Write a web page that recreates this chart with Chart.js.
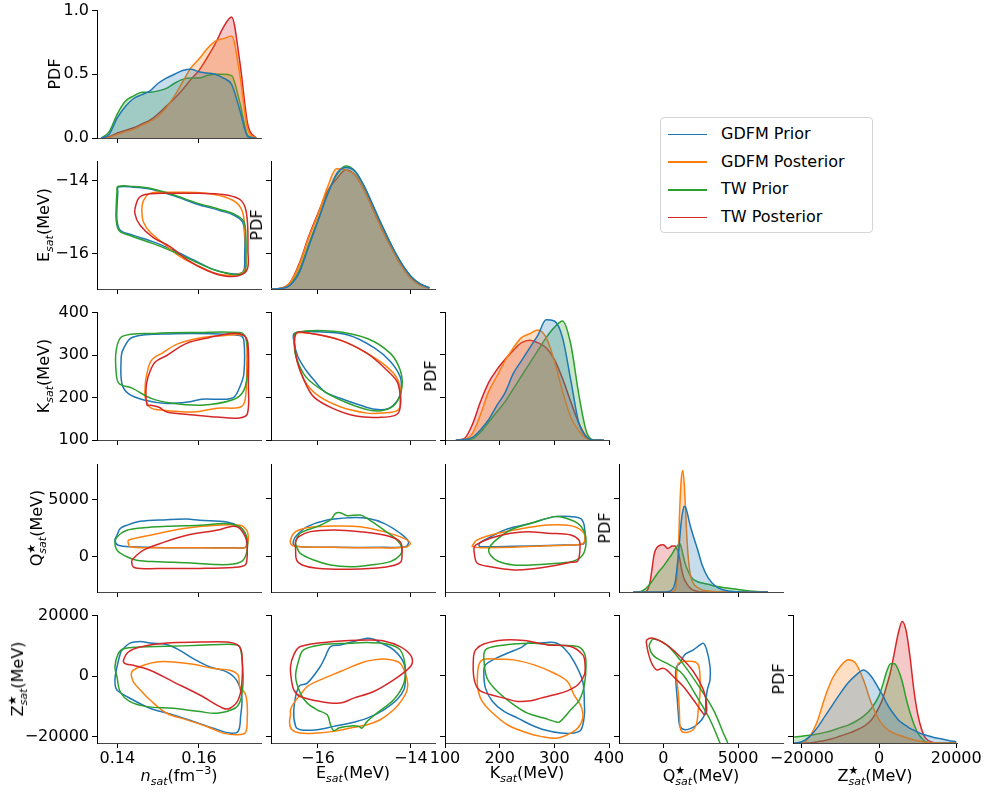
<!DOCTYPE html>
<html>
<head>
<meta charset="utf-8">
<script src="https://cdn.jsdelivr.net/npm/chart.js@4.4.0/dist/chart.umd.min.js"></script>
<style>
  body { margin: 0; background: #fff; font-family: "DejaVu Sans", sans-serif; }
  #fig { position: relative; width: 986px; height: 796px; overflow: hidden; }
  #fig canvas { position: absolute; }
  .lab { position: absolute; font-size: 16px; white-space: nowrap; color: #000; transform: translate(-50%, -50%); line-height: 20px; }
  .rot { transform: translate(-50%, -50%) rotate(-90deg); }
  .sb { font-size: 11px; vertical-align: -4px; }
  .sp { font-size: 11px; vertical-align: 7px; }
  .st { display: inline-flex; flex-direction: column; font-size: 11px; line-height: 11px; vertical-align: 7px; }
  #legend { position: absolute; left: 660px; top: 117px; width: 211px; height: 114px; border: 1px solid #d4d4d4; border-radius: 4px; background: rgba(255,255,255,0.8); }
  .lrow { position: absolute; left: 7px; height: 20px; line-height: 20px; font-size: 16px; white-space: nowrap; }
  .lsw { display: inline-block; width: 39px; height: 1.5px; vertical-align: middle; margin-right: 14px; }
</style>
</head>
<body>
<div id="fig"></div>
<script>
const seriesNames = ["GDFM Prior", "GDFM Posterior", "TW Prior", "TW Posterior"];
const seriesColors = ["#1f77b4", "#ff7f0e", "#2ca02c", "#d62728"];
const seriesFills = ["rgba(31,119,180,0.25)", "rgba(255,127,14,0.25)", "rgba(44,160,44,0.25)", "rgba(214,39,40,0.25)"];

// ---- diagonal PDFs (height as a fraction of the panel) ----
const nsatGrid = [0.136,0.138,0.140,0.142,0.144,0.146,0.148,0.150,0.152,0.154,0.156,0.158,0.160,0.162,0.164,0.166,0.168,0.170,0.172,0.174];
const nsatPdfGdfmPrior = [0,0.03,0.16,0.25,0.31,0.34,0.37,0.43,0.47,0.5,0.53,0.54,0.52,0.51,0.5,0.47,0.42,0.22,0.01,0];
const nsatPdfGdfmPost  = [0,0.005,0.03,0.05,0.07,0.1,0.13,0.17,0.24,0.33,0.44,0.55,0.62,0.7,0.76,0.78,0.8,0.5,0.06,0];
const nsatPdfTwPrior   = [0,0.05,0.19,0.29,0.33,0.36,0.36,0.37,0.39,0.43,0.46,0.47,0.47,0.49,0.5,0.5,0.49,0.28,0.02,0];
const nsatPdfTwPost    = [0,0.01,0.04,0.06,0.08,0.11,0.14,0.19,0.25,0.31,0.38,0.46,0.53,0.63,0.74,0.87,0.95,0.6,0.1,0];

const esatGrid = [-17,-16.8,-16.6,-16.4,-16.2,-16,-15.8,-15.6,-15.4,-15.2,-15,-14.8,-14.6,-14.4,-14.2,-14,-13.8,-13.6];
const esatPdfGdfmPrior = [0,0.003,0.03,0.13,0.33,0.53,0.73,0.9,0.95,0.92,0.8,0.64,0.48,0.33,0.2,0.1,0.04,0.01];
const esatPdfGdfmPost  = [0,0.006,0.05,0.19,0.4,0.58,0.79,0.94,0.93,0.89,0.77,0.61,0.45,0.31,0.18,0.085,0.03,0.007];
const esatPdfTwPrior   = [0,0.004,0.035,0.15,0.35,0.54,0.74,0.89,0.96,0.92,0.8,0.64,0.48,0.33,0.2,0.1,0.04,0.009];
const esatPdfTwPost    = [0,0.006,0.05,0.2,0.41,0.59,0.76,0.86,0.93,0.89,0.77,0.61,0.45,0.31,0.18,0.085,0.03,0.007];

const ksatGrid = [120,135,150,165,180,195,210,225,240,255,270,285,300,315,330,345,360,375,390];
const ksatPdfGdfmPrior = [0,0.003,0.02,0.08,0.16,0.27,0.37,0.52,0.62,0.72,0.82,0.94,0.93,0.8,0.47,0.13,0.02,0,0];
const ksatPdfGdfmPost  = [0,0.005,0.05,0.2,0.38,0.5,0.62,0.72,0.8,0.83,0.86,0.8,0.62,0.38,0.18,0.07,0.01,0,0];
const ksatPdfTwPrior   = [0,0.002,0.01,0.06,0.14,0.22,0.3,0.4,0.5,0.6,0.7,0.8,0.88,0.93,0.75,0.35,0.05,0,0];
const ksatPdfTwPost    = [0,0.01,0.12,0.3,0.45,0.55,0.63,0.7,0.76,0.78,0.76,0.72,0.63,0.48,0.3,0.13,0.02,0,0];

const qsatGrid = [-2000,-1500,-1200,-900,-600,-300,0,300,600,800,1000,1100,1200,1300,1400,1500,1600,1800,2000,2300,2600,3000,3500,4000,4500,5000,5500,6000,6500,7000];
const qsatPdfGdfmPrior = [0,0,0,0,0,0,0,0.003,0.02,0.08,0.28,0.42,0.55,0.63,0.67,0.66,0.62,0.52,0.44,0.33,0.21,0.11,0.045,0.017,0.006,0.002,0,0,0,0];
const qsatPdfGdfmPost  = [0,0,0,0,0,0,0,0,0.003,0.02,0.3,0.65,0.88,0.95,0.85,0.62,0.38,0.14,0.07,0.035,0.016,0.008,0.003,0,0,0,0,0,0,0];
const qsatPdfTwPrior   = [0,0.005,0.025,0.06,0.11,0.16,0.2,0.25,0.3,0.34,0.37,0.38,0.35,0.3,0.25,0.21,0.18,0.13,0.1,0.08,0.07,0.06,0.045,0.035,0.028,0.02,0.012,0.006,0.002,0];
const qsatPdfTwPost    = [0,0,0.002,0.07,0.3,0.36,0.37,0.34,0.36,0.36,0.31,0.26,0.19,0.14,0.1,0.08,0.06,0.03,0.015,0.005,0,0,0,0,0,0,0,0,0,0];

const zsatGrid = [-22000,-20000,-18000,-16000,-14000,-12000,-10000,-8000,-6000,-4000,-2000,0,1000,2000,3000,4000,5000,6000,7000,8000,9000,10000,11000,12000,14000,16000,18000,20000];
const zsatPdfGdfmPrior = [0,0.01,0.05,0.12,0.21,0.3,0.39,0.47,0.53,0.57,0.52,0.42,0.37,0.31,0.26,0.22,0.18,0.155,0.135,0.115,0.1,0.085,0.072,0.062,0.045,0.033,0.02,0.01];
const zsatPdfGdfmPost  = [0,0,0.05,0.17,0.36,0.51,0.6,0.65,0.62,0.49,0.31,0.18,0.14,0.11,0.09,0.075,0.063,0.053,0.043,0.033,0.025,0.018,0.011,0.006,0.001,0,0,0];
const zsatPdfTwPrior   = [0.047,0.053,0.06,0.07,0.083,0.1,0.12,0.14,0.17,0.21,0.27,0.37,0.46,0.56,0.62,0.62,0.57,0.48,0.35,0.24,0.15,0.08,0.04,0.01,0,0,0,0];
const zsatPdfTwPost    = [0,0,0,0.01,0.02,0.035,0.055,0.075,0.1,0.13,0.18,0.28,0.35,0.45,0.56,0.71,0.86,0.95,0.88,0.68,0.42,0.23,0.11,0.04,0.005,0,0,0];

// ---- 2D contours, [x, y] in data units ----
const nsatEsatGdfmPrior = [[0.1402,-14.18],[0.1439,-14.18],[0.1480,-14.23],[0.1537,-14.41],[0.1594,-14.64],[0.1651,-14.82],[0.1686,-14.95],[0.1707,-15.14],[0.1712,-15.55],[0.1712,-16.09],[0.1710,-16.46],[0.1698,-16.55],[0.1678,-16.55],[0.1637,-16.44],[0.1588,-16.18],[0.1537,-15.91],[0.1488,-15.68],[0.1439,-15.50],[0.1407,-15.36],[0.1399,-15.09],[0.1399,-14.73],[0.1401,-14.32]];
const nsatEsatGdfmPost  = [[0.1460,-14.82],[0.1464,-14.55],[0.1480,-14.35],[0.1537,-14.32],[0.1602,-14.33],[0.1651,-14.41],[0.1690,-14.59],[0.1707,-14.87],[0.1712,-15.36],[0.1715,-16.09],[0.1712,-16.46],[0.1694,-16.57],[0.1651,-16.57],[0.1602,-16.36],[0.1555,-16.09],[0.1514,-15.73],[0.1480,-15.41],[0.1464,-15.14]];
const nsatEsatTwPrior   = [[0.1401,-14.16],[0.1439,-14.16],[0.1480,-14.21],[0.1537,-14.39],[0.1594,-14.61],[0.1651,-14.79],[0.1688,-14.93],[0.1710,-15.12],[0.1715,-15.55],[0.1715,-16.09],[0.1713,-16.48],[0.1700,-16.57],[0.1676,-16.56],[0.1635,-16.44],[0.1586,-16.2],[0.1535,-15.94],[0.1486,-15.72],[0.1437,-15.53],[0.1405,-15.38],[0.1397,-15.09],[0.1397,-14.73],[0.1399,-14.3]];
const nsatEsatTwPost    = [[0.1446,-14.64],[0.1456,-14.44],[0.1480,-14.36],[0.1537,-14.35],[0.1602,-14.35],[0.1659,-14.38],[0.1698,-14.50],[0.1713,-14.73],[0.1719,-15.18],[0.1720,-15.91],[0.1719,-16.41],[0.1702,-16.59],[0.1666,-16.62],[0.1621,-16.47],[0.1572,-16.18],[0.1531,-15.82],[0.1488,-15.56],[0.1456,-15.23],[0.1443,-14.91]];

const nsatKsatGdfmPrior = [[0.1409,287],[0.1413,311],[0.1437,342],[0.1540,350],[0.1634,350],[0.1700,346],[0.1710,334],[0.1710,256],[0.1700,225],[0.1686,201],[0.1663,196],[0.1606,196],[0.1578,190],[0.1521,186],[0.1465,194],[0.1427,209],[0.1411,233]];
const nsatKsatGdfmPost  = [[0.1468,224],[0.1470,245],[0.1483,287],[0.1512,306],[0.1549,327],[0.1605,341],[0.1664,346],[0.1700,348],[0.1715,341],[0.1717,271],[0.1713,194],[0.1700,177],[0.1644,175],[0.1588,166],[0.1512,170],[0.1480,177],[0.1468,201]];
const nsatKsatTwPrior   = [[0.1397,311],[0.1412,344],[0.1492,351],[0.1588,353],[0.1700,353],[0.1715,341],[0.1720,271],[0.1710,217],[0.1681,194],[0.1605,182],[0.1531,187],[0.1483,198],[0.1436,222],[0.1404,233],[0.1397,259]];
const nsatKsatTwPost    = [[0.1470,217],[0.1475,248],[0.1492,283],[0.1521,299],[0.1568,327],[0.1624,341],[0.1681,351],[0.1710,346],[0.1720,327],[0.1721,233],[0.1719,163],[0.1700,152],[0.1644,154],[0.1588,159],[0.1521,166],[0.1502,177],[0.1482,182],[0.1473,182]];

const esatKsatGdfmPrior = [[-16.51,350],[-16.09,354],[-15.35,346],[-14.77,315],[-14.44,284],[-14.23,248],[-14.21,217],[-14.28,194],[-14.48,174],[-14.77,172],[-15.10,182],[-15.52,198],[-15.85,213],[-16.09,241],[-16.26,264],[-16.43,295],[-16.51,327]];
const esatKsatGdfmPost  = [[-16.47,350],[-16.18,350],[-15.52,334],[-14.94,303],[-14.52,272],[-14.28,241],[-14.21,194],[-14.28,170],[-14.61,163],[-14.94,163],[-15.52,178],[-16.01,205],[-16.30,241],[-16.45,287],[-16.51,327]];
const esatKsatTwPrior   = [[-16.47,352],[-15.68,355],[-14.94,338],[-14.44,303],[-14.23,264],[-14.19,225],[-14.32,186],[-14.57,170],[-14.90,170],[-15.35,186],[-15.85,213],[-16.26,248],[-16.47,295],[-16.51,334]];
const esatKsatTwPost    = [[-16.47,350],[-16.18,350],[-15.52,334],[-14.94,303],[-14.52,264],[-14.28,233],[-14.23,178],[-14.32,159],[-14.69,153],[-15.18,156],[-15.68,174],[-16.09,201],[-16.30,241],[-16.47,295]];

const nsatQsatGdfmPrior = [[0.1399,1880],[0.1407,2460],[0.1423,2750],[0.1456,3090],[0.1521,3235],[0.1570,3290],[0.1602,3180],[0.1668,3030],[0.1700,2600],[0.1713,2030],[0.1717,1160],[0.1713,815],[0.1684,790],[0.1602,790],[0.1521,795],[0.1439,870],[0.1402,1010],[0.1394,1450]];
const nsatQsatGdfmPost  = [[0.1427,1450],[0.1480,1880],[0.1562,2460],[0.1643,2750],[0.1700,2750],[0.1717,2300],[0.1721,1600],[0.1718,1000],[0.1713,800],[0.1602,790],[0.1480,800],[0.1431,870],[0.1427,1160]];
const nsatQsatTwPrior   = [[0.1394,1160],[0.1399,1730],[0.1423,2310],[0.1464,2540],[0.1521,2660],[0.1602,2750],[0.1668,2890],[0.1700,2600],[0.1717,1730],[0.1718,580],[0.1708,-290],[0.1684,-630],[0.1635,-660],[0.1570,-520],[0.1505,-430],[0.1447,-290],[0.1415,150],[0.1399,580]];
const nsatQsatTwPost    = [[0.1439,-145],[0.1435,-430],[0.1439,-870],[0.1456,-1010],[0.1521,-1010],[0.1602,-1010],[0.1684,-920],[0.1713,-720],[0.1718,0],[0.1718,870],[0.1717,1450],[0.1700,2460],[0.1684,2660],[0.1643,2310],[0.1570,1880],[0.1505,1160],[0.1464,580]];

const esatQsatGdfmPrior = [[-16.52,1450],[-16.45,1880],[-16.23,2600],[-15.80,3180],[-15.30,3380],[-14.94,3320],[-14.58,2890],[-14.23,2030],[-14.05,1300],[-14.12,870],[-14.58,815],[-15.66,815],[-16.38,870],[-16.52,1010]];
const esatQsatGdfmPost  = [[-16.59,1450],[-16.48,2170],[-16.16,2540],[-15.66,2660],[-15.09,2600],[-14.58,2170],[-14.15,1590],[-14.01,1160],[-14.12,815],[-14.94,780],[-15.66,815],[-16.38,870],[-16.56,1010]];
const esatQsatTwPrior   = [[-16.48,1300],[-16.38,2030],[-16.02,2600],[-15.73,3180],[-15.62,3750],[-15.52,3810],[-15.37,3550],[-15.09,3610],[-14.94,3320],[-14.58,2310],[-14.30,1450],[-14.19,730],[-14.23,150],[-14.44,-430],[-14.87,-720],[-15.30,-870],[-15.73,-720],[-16.09,-290],[-16.38,290],[-16.46,870]];
const esatQsatTwPost    = [[-16.48,1300],[-16.41,1730],[-16.16,2170],[-15.66,2310],[-15.09,2170],[-14.58,1880],[-14.23,1300],[-14.19,290],[-14.23,-520],[-14.58,-920],[-15.30,-1090],[-16.02,-1010],[-16.34,-720],[-16.46,-290],[-16.48,580]];

const ksatQsatGdfmPrior = [[162,1010],[165,1250],[184,1730],[214,2400],[257,2890],[300,3470],[330,3470],[349,3270],[355,2600],[356,1450],[352,1075],[318,1010],[257,930],[196,870],[165,870]];
const ksatQsatGdfmPost  = [[150,950],[159,1450],[196,2030],[245,2460],[288,2750],[330,2690],[352,2170],[356,1450],[349,1075],[288,950],[226,810],[165,780],[150,870]];
const ksatQsatTwPrior   = [[180,640],[190,1300],[220,2310],[257,2890],[300,3470],[318,3380],[343,2890],[355,2170],[358,1160],[352,150],[336,-370],[306,-570],[257,-720],[226,-720],[196,-370],[183,150]];
const ksatQsatTwPost    = [[153,730],[156,1010],[183,1600],[220,2030],[251,2170],[288,2030],[330,1880],[345,1450],[347,870],[343,-370],[330,-490],[306,-720],[257,-1070],[226,-1150],[183,-870],[159,-570],[154,150]];

const nsatZsatGdfmPrior = [[0.1411,8525],[0.1431,10930],[0.1456,11480],[0.1480,10930],[0.1521,10490],[0.1553,8525],[0.1586,5790],[0.1627,3060],[0.1668,1420],[0.1692,-1310],[0.1705,-6780],[0.1702,-13340],[0.1696,-18250],[0.1676,-18800],[0.1635,-17160],[0.1586,-14970],[0.1537,-12790],[0.1480,-10600],[0.1439,-7870],[0.1399,-4590],[0.1394,-1310],[0.1399,3060],[0.1407,7430]];
const nsatZsatGdfmPost  = [[0.1435,-220],[0.1434,870],[0.1439,1970],[0.1464,3610],[0.1496,4700],[0.1537,4700],[0.1586,3940],[0.1635,2510],[0.1676,1970],[0.1696,330],[0.1700,-3500],[0.1713,-5680],[0.1718,-8960],[0.1718,-15520],[0.1713,-18800],[0.1692,-19350],[0.1659,-18800],[0.1619,-16610],[0.1570,-14430],[0.1521,-12240],[0.1480,-7870],[0.1456,-4590],[0.1439,-1860]];
const nsatZsatTwPrior   = [[0.1399,-220],[0.1394,3060],[0.1402,7430],[0.1415,9070],[0.1456,9620],[0.1521,9840],[0.1602,10170],[0.1684,10490],[0.1700,9620],[0.1707,3060],[0.1708,-2400],[0.1702,-7870],[0.1688,-10600],[0.1643,-12240],[0.1602,-11700],[0.1537,-10600],[0.1472,-10060],[0.1431,-8420],[0.1407,-5140]];
const nsatZsatTwPost    = [[0.1419,4150],[0.1415,5250],[0.1427,7980],[0.1456,9620],[0.1521,10930],[0.1602,11260],[0.1668,11260],[0.1696,10170],[0.1705,7430],[0.1705,-2400],[0.1696,-7870],[0.1676,-10600],[0.1659,-10600],[0.1602,-6230],[0.1537,-1860],[0.1480,1970],[0.1439,3610]];

const esatZsatGdfmPrior = [[-16.48,-16610],[-16.52,-11150],[-16.41,-3500],[-16.23,-2400],[-15.95,3060],[-15.84,6340],[-15.73,9620],[-15.52,10170],[-15.23,11260],[-14.94,12350],[-14.80,12020],[-14.66,10930],[-14.37,8530],[-14.15,4150],[-14.12,-1310],[-14.15,-4590],[-14.30,-7870],[-14.58,-11150],[-14.94,-13880],[-15.30,-15520],[-15.66,-16610],[-16.02,-17710],[-16.38,-17710]];
const esatZsatGdfmPost  = [[-16.59,-12790],[-16.59,-11150],[-16.52,-8960],[-16.38,-6230],[-16.23,-3500],[-15.95,-1310],[-15.52,1420],[-15.09,4150],[-14.80,5250],[-14.51,5470],[-14.23,4150],[-14.08,-1310],[-14.08,-4590],[-14.19,-7870],[-14.37,-11150],[-14.66,-14430],[-14.94,-16070],[-15.30,-17160],[-15.66,-18250],[-16.02,-18800],[-16.38,-18800],[-16.56,-17710],[-16.61,-15520]];
const esatZsatTwPrior   = [[-16.48,-220],[-16.41,5250],[-16.31,8530],[-15.95,10170],[-15.30,10710],[-14.94,10930],[-14.51,10490],[-14.23,8530],[-14.12,3060],[-14.15,-2400],[-14.37,-7870],[-14.73,-12240],[-14.94,-14970],[-15.05,-17160],[-15.12,-16610],[-15.23,-16400],[-15.37,-16610],[-15.55,-17160],[-15.66,-18030],[-15.73,-16070],[-15.80,-12790],[-16.02,-11150],[-16.23,-8960],[-16.38,-5680]];
const esatZsatTwPost    = [[-16.59,3060],[-16.52,6890],[-16.38,9620],[-15.66,11260],[-14.94,11800],[-14.58,11480],[-14.23,9620],[-14.01,6890],[-13.97,4150],[-14.08,1970],[-14.37,-1310],[-14.80,-5140],[-15.23,-7320],[-15.52,-8960],[-15.95,-8420],[-16.38,-6780],[-16.52,-4590],[-16.57,-1310]];

const ksatZsatGdfmPrior = [[171,1420],[174,3610],[190,5470],[214,7430],[239,9290],[251,10710],[269,10710],[300,10930],[318,9070],[336,4700],[352,-1860],[355,-9510],[355,-12790],[349,-17710],[336,-18800],[312,-18800],[281,-17710],[257,-16070],[233,-13880],[208,-11700],[187,-8420],[174,-4040]];
const ksatZsatGdfmPost  = [[159,-1860],[162,3610],[171,5470],[202,5470],[226,5250],[263,3610],[300,870],[324,-1860],[336,-6230],[349,-10060],[352,-13880],[343,-17160],[330,-18800],[306,-20440],[275,-19890],[251,-18800],[214,-16070],[184,-11700],[168,-8420],[161,-5140]];
const ksatZsatTwPrior   = [[177,-770],[171,5790],[174,8530],[190,9620],[226,10490],[263,10710],[306,10060],[343,9620],[355,7430],[358,3610],[355,-2950],[346,-7870],[330,-11150],[309,-15190],[300,-14970],[281,-13880],[251,-12240],[226,-9510],[196,-5140]];
const ksatZsatTwPost    = [[153,-770],[152,5790],[156,8530],[171,10490],[208,11800],[245,11590],[288,10170],[330,9620],[352,6890],[356,4150],[355,330],[343,-2950],[324,-4920],[300,-6230],[275,-7320],[257,-8200],[233,-8420],[208,-7320],[184,-6230],[162,-4590]];

const qsatZsatGdfmPrior = [[892,3060],[1118,4153],[1339,6339],[1566,7432],[2008,8525],[2456,10165],[2677,10712],[2905,8525],[3126,3060],[3126,-1312],[2945,-4591],[2858,-7870],[2791,-12242],[2570,-14428],[2235,-16068],[1901,-17160],[1452,-17707],[1118,-16613],[1004,-12242],[937,-7870],[848,-2404],[826,1421]];
const qsatZsatGdfmPost  = [[1004,4153],[1339,4700],[2008,4700],[2343,3607],[2456,-219],[2456,-5684],[2343,-11148],[2235,-15521],[2008,-17707],[1566,-18581],[1231,-18253],[1118,-16613],[1071,-11148],[1004,-5684],[892,-219],[937,3060]];
const qsatZsatTwPrior   = [[-890,10710],[-670,12130],[220,10170],[1120,5250],[2235,-2400],[3350,-11150],[4016,-18800],[4350,-23170],[3900,-23170],[3795,-22080],[3126,-14430],[2235,-6780],[1566,-1312],[1118,1421],[223,4153],[-446,5793],[-781,7432],[-937,9618]];
const qsatZsatTwPost    = [[-1110,11800],[-670,12350],[220,10170],[1120,6340],[2010,1420],[2680,-4590],[2900,-10060],[2790,-12790],[2570,-11700],[2010,-7870],[1340,-3500],[670,-220],[220,1970],[-45,2510],[-450,1970],[-780,4150],[-1000,7430],[-1110,10170]];

// ---- axes ----
const xRanges = [[0.135,0.1752],[-17.01,-13.48],[100,400],[-2965,8010],[-22300,20200]];
const xTicks  = [[0.14,0.16],[-16,-14],[100,200,300,400],[0,5000],[-20000,0,20000]];
const yRanges = [[0,1],[-16.97,-13.48],[100,400],[-3060,8030],[-22070,20000]];
const yTicks  = [[0,0.5,1],[-16,-14],[100,200,300,400],[0,5000],[-20000,0,20000]];

const diagGrids = [nsatGrid, esatGrid, ksatGrid, qsatGrid, zsatGrid];
const diagPdfs = [
  [nsatPdfGdfmPrior, nsatPdfGdfmPost, nsatPdfTwPrior, nsatPdfTwPost],
  [esatPdfGdfmPrior, esatPdfGdfmPost, esatPdfTwPrior, esatPdfTwPost],
  [ksatPdfGdfmPrior, ksatPdfGdfmPost, ksatPdfTwPrior, ksatPdfTwPost],
  [qsatPdfGdfmPrior, qsatPdfGdfmPost, qsatPdfTwPrior, qsatPdfTwPost],
  [zsatPdfGdfmPrior, zsatPdfGdfmPost, zsatPdfTwPrior, zsatPdfTwPost]
];
const contours = {
  "1-0": [nsatEsatGdfmPrior, nsatEsatGdfmPost, nsatEsatTwPrior, nsatEsatTwPost],
  "2-0": [nsatKsatGdfmPrior, nsatKsatGdfmPost, nsatKsatTwPrior, nsatKsatTwPost],
  "2-1": [esatKsatGdfmPrior, esatKsatGdfmPost, esatKsatTwPrior, esatKsatTwPost],
  "3-0": [nsatQsatGdfmPrior, nsatQsatGdfmPost, nsatQsatTwPrior, nsatQsatTwPost],
  "3-1": [esatQsatGdfmPrior, esatQsatGdfmPost, esatQsatTwPrior, esatQsatTwPost],
  "3-2": [ksatQsatGdfmPrior, ksatQsatGdfmPost, ksatQsatTwPrior, ksatQsatTwPost],
  "4-0": [nsatZsatGdfmPrior, nsatZsatGdfmPost, nsatZsatTwPrior, nsatZsatTwPost],
  "4-1": [esatZsatGdfmPrior, esatZsatGdfmPost, esatZsatTwPrior, esatZsatTwPost],
  "4-2": [ksatZsatGdfmPrior, ksatZsatGdfmPost, ksatZsatTwPrior, ksatZsatTwPost],
  "4-3": [qsatZsatGdfmPrior, qsatZsatGdfmPost, qsatZsatTwPrior, qsatZsatTwPost]
};

const xTitles = [
  '<i>n</i><span class="sb"><i>sat</i></span>(fm<span class="sp">−3</span>)',
  'E<span class="sb"><i>sat</i></span>(MeV)',
  'K<span class="sb"><i>sat</i></span>(MeV)',
  'Q<span class="st"><span>★</span><span><i>sat</i></span></span>(MeV)',
  'Z<span class="st"><span>★</span><span><i>sat</i></span></span>(MeV)'
];
const yTitles = ['PDF', xTitles[1], xTitles[2], xTitles[3], xTitles[4]];
const yTitleX = [55, 47, 47, 37, 18];

// layout of the grid
const colX = [97, 271, 445, 619, 793];
const rowY = [10, 161, 312, 464, 615];
const PW = 164, PH = 128;
const PAD_L = 80, PAD_T = 12, PAD_R = 30, PAD_B = 30;

Chart.defaults.font.family = "'DejaVu Sans', sans-serif";
Chart.defaults.font.size = 16;
Chart.defaults.color = "#000";

const fig = document.getElementById("fig");

function fmt(axis, v) {
  if (axis === "pdf") return v.toFixed(1);
  if (axis === 0) return v.toFixed(2);
  return String(Math.round(v)).replace("-", "\u2212");
}

function makePanel(row, col) {
  const diag = row === col;
  const c = document.createElement("canvas");
  c.width = PAD_L + PW + PAD_R;
  c.height = PAD_T + PH + PAD_B;
  c.style.left = (colX[col] - PAD_L) + "px";
  c.style.top = (rowY[row] - PAD_T) + "px";
  fig.appendChild(c);

  let datasets;
  if (diag) {
    // KDE fills: first series on top (lowest order is drawn last)
    datasets = diagPdfs[col].map((ys, i) => ({
      data: diagGrids[col].map((x, j) => ({ x: x, y: ys[j] })),
      borderColor: seriesColors[i], backgroundColor: seriesFills[i], fill: "origin",
      borderWidth: 1.5, pointRadius: 0, cubicInterpolationMode: "monotone", order: i
    }));
  } else {
    // contour lines: last series on top
    datasets = contours[row + "-" + col].map((pts, i) => {
      const n = pts.length;
      // wrap one point on each side so the closed loop is smooth at the seam, hide the extra bits
      const loop = [pts[n - 1]].concat(pts, [pts[0], pts[1]]);
      return {
        data: loop.map(p => ({ x: p[0], y: p[1] })),
        borderColor: seriesColors[i], fill: false,
        borderWidth: 1.5, pointRadius: 0, tension: 0.35, order: 3 - i,
        segment: {
          borderColor: ctx => (ctx.p0DataIndex === 0 || ctx.p0DataIndex === n + 1) ? "rgba(0,0,0,0)" : undefined
        }
      };
    });
  }

  // diagonal y axis is a fraction of the panel; put its ticks where the row's ticks are
  const yr = yRanges[row];
  const yMin = diag ? 0 : yr[0], yMax = diag ? 1 : yr[1];
  const yT = diag ? yTicks[row].map(t => (t - yr[0]) / (yr[1] - yr[0])) : yTicks[row];
  const showY = col === 0;
  const showX = row === 4;
  const yAxis = row === 0 ? "pdf" : row;

  new Chart(c, {
    type: "line",
    data: { datasets },
    options: {
      responsive: false, animation: false, events: [],
      devicePixelRatio: 1,
      layout: { autoPadding: false, padding: { top: PAD_T, right: PAD_R, left: 0, bottom: 0 } },
      plugins: { legend: { display: false }, tooltip: { enabled: false } },
      scales: {
        x: {
          type: "linear", min: xRanges[col][0], max: xRanges[col][1],
          afterBuildTicks: s => { s.ticks = xTicks[col].map(v => ({ value: v })); },
          afterFit: s => { s.height = PAD_B; },
          border: { display: true, color: "#444", width: 1 },
          grid: { display: true, drawOnChartArea: false, drawTicks: true, tickLength: 5, tickColor: "#000", tickWidth: 1 },
          ticks: { display: showX, autoSkip: false, maxRotation: 0, minRotation: 0, padding: 1,
                   callback: v => fmt(col, v) }
        },
        y: {
          type: "linear", min: yMin, max: yMax,
          afterBuildTicks: s => { s.ticks = yT.map(v => ({ value: v })); },
          afterFit: s => { s.width = PAD_L; },
          border: { display: true, color: "#000", width: 1 },
          grid: { display: true, drawOnChartArea: false, drawTicks: true, tickLength: 5, tickColor: "#000", tickWidth: 1 },
          ticks: { display: showY, autoSkip: false, padding: 3,
                   callback: v => fmt(yAxis, v) }
        }
      }
    }
  });
}

for (let r = 0; r < 5; r++) {
  for (let c = 0; c <= r; c++) makePanel(r, c);
}

function addLabel(html, x, y, rotate) {
  const d = document.createElement("div");
  d.className = rotate ? "lab rot" : "lab";
  d.innerHTML = html;
  d.style.left = x + "px";
  d.style.top = y + "px";
  fig.appendChild(d);
}

// axis titles
xTitles.forEach((t, i) => addLabel(t, colX[i] + PW / 2, 776, false));
yTitles.forEach((t, i) => addLabel(t, yTitleX[i], rowY[i] + PH / 2, true));
for (let r = 1; r < 5; r++) addLabel("PDF", colX[r] - 14, rowY[r] + PH / 2, true);

// legend
const leg = document.createElement("div");
leg.id = "legend";
seriesNames.forEach((name, i) => {
  const row = document.createElement("div");
  row.className = "lrow";
  row.style.top = (6 + i * 27.7) + "px";
  row.innerHTML = '<span class="lsw" style="background:' + seriesColors[i] + '"></span>' + name;
  leg.appendChild(row);
});
fig.appendChild(leg);
</script>
</body>
</html>
